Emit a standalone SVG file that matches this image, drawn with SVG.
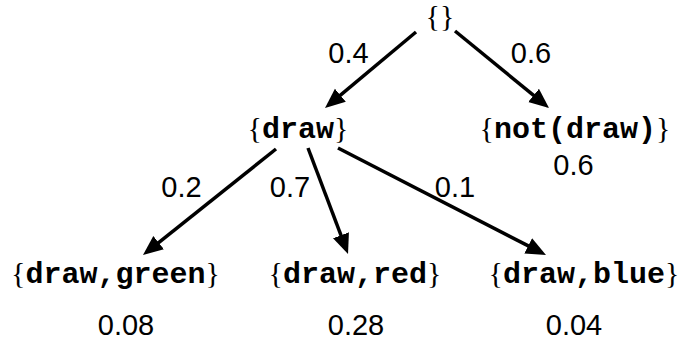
<svg xmlns="http://www.w3.org/2000/svg" width="683" height="349" viewBox="0 0 683 349">
<style>
.bg{fill:#fff}
.node{font-family:"Liberation Mono","DejaVu Sans Mono",monospace;font-weight:bold;font-size:30px;fill:#000;text-anchor:middle}
.br{font-family:"Liberation Serif","DejaVu Serif",serif;font-weight:normal}
.num{font-family:"Liberation Sans","DejaVu Sans",sans-serif;font-size:29px;fill:#000;text-anchor:middle}
.edge{stroke:#000;stroke-width:3.5;fill:none;marker-end:url(#ah)}
</style>
<defs>
<marker id="ah" markerUnits="userSpaceOnUse" markerWidth="22" markerHeight="19" refX="10" refY="8.5" orient="auto">
<path d="M0,0 L20,8.5 L0,17 z" fill="#000"/>
</marker>
</defs>
<rect class="bg" x="0" y="0" width="683" height="349"/>
<g id="connectors">
<line class="edge" x1="416" y1="32" x2="332.7" y2="101.6"/>
<line class="edge" x1="455" y1="31" x2="541.3" y2="101.7"/>
<line class="edge" x1="276" y1="149" x2="150.8" y2="248.8"/>
<line class="edge" x1="308" y1="148" x2="344.5" y2="244.6"/>
<line class="edge" x1="338" y1="148" x2="537.1" y2="250.4"/>
</g>
<g id="edge-labels">
<text class="num" x="348.5" y="63">0.4</text>
<text class="num" x="531" y="63">0.6</text>
<text class="num" x="181.5" y="197">0.2</text>
<text class="num" x="290" y="197">0.7</text>
<text class="num" x="455" y="197">0.1</text>
</g>
<g id="node-root"><text class="node" x="440" y="26"><tspan class="br">{}</tspan></text></g>
<g id="node-draw"><text class="node" x="298" y="138"><tspan class="br">{</tspan>draw<tspan class="br">}</tspan></text></g>
<g id="node-notdraw">
<text class="node" x="575" y="138"><tspan class="br">{</tspan>not(draw)<tspan class="br">}</tspan></text>
<text class="num" x="573.5" y="175">0.6</text>
</g>
<g id="node-green">
<text class="node" x="115.5" y="283"><tspan class="br">{</tspan>draw,green<tspan class="br">}</tspan></text>
<text class="num" x="126" y="335">0.08</text>
</g>
<g id="node-red">
<text class="node" x="355" y="283"><tspan class="br">{</tspan>draw,red<tspan class="br">}</tspan></text>
<text class="num" x="356" y="335">0.28</text>
</g>
<g id="node-blue">
<text class="node" x="584" y="283"><tspan class="br">{</tspan>draw,blue<tspan class="br">}</tspan></text>
<text class="num" x="574" y="335">0.04</text>
</g>
</svg>
